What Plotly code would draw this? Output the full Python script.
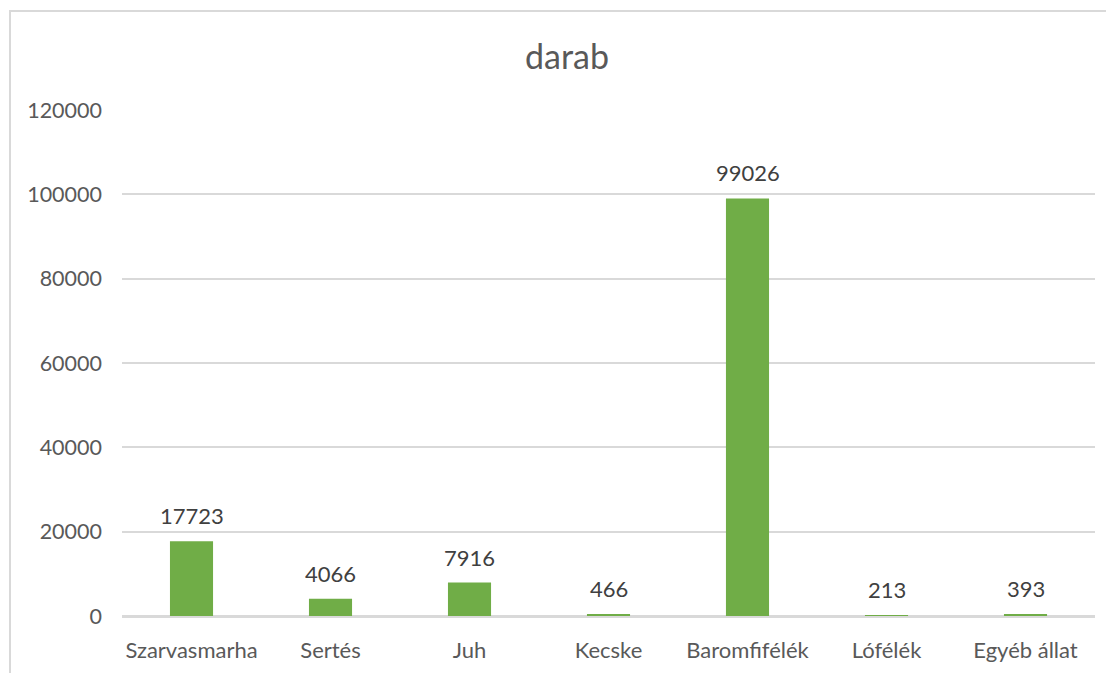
import plotly.graph_objects as go

categories = ["Szarvasmarha", "Sertés", "Juh", "Kecske", "Baromfifélék", "Lófélék", "Egyéb állat"]
values = [17723, 4066, 7916, 466, 99026, 213, 393]
y_ticks = [0, 20000, 40000, 60000, 80000, 100000, 120000]
title_text = "darab"

FONT = "Lato, 'Open Sans', sans-serif"
BAR_COLOR = "#70AD47"

fig = go.Figure()
fig.add_trace(go.Bar(
    x=categories, y=values,
    marker=dict(color=BAR_COLOR, line=dict(width=0)),
    hoverinfo="x+y",
))

for c, v in zip(categories, values):
    fig.add_annotation(
        x=c, y=v, xref="x", yref="y", text=str(v), showarrow=False,
        yanchor="bottom", yshift=10,
        font=dict(family=FONT, size=22, color="#404040"),
    )

fig.add_shape(type="rect", xref="paper", yref="paper",
              x0=-0.1151, x1=1.2, y0=-0.3, y1=1.1957,
              line=dict(color="#D9D9D9", width=2), layer="below")

fig.update_layout(
    width=1106, height=665,
    margin=dict(l=114, r=19, t=102, b=57, autoexpand=False),
    paper_bgcolor="white", plot_bgcolor="white",
    title=dict(text=title_text, x=(567 - 8) / 1106, xref="container", xanchor="center",
               y=1 - 49 / 665, yref="container", yanchor="middle",
               font=dict(family=FONT, size=34, color="#595959")),
    bargap=0.69,
    showlegend=False,
    xaxis=dict(
        showgrid=False, showline=True, linecolor="#D9D9D9", linewidth=1.5,
        tickfont=dict(family=FONT, size=22, color="#595959"),
        ticks="", ticklabelstandoff=14,
    ),
    yaxis=dict(
        range=[0, 120000], tickvals=y_ticks, ticktext=[str(t) for t in y_ticks],
        showgrid=True, gridcolor="#D9D9D9", gridwidth=1.5,
        zeroline=True, zerolinecolor="#D9D9D9", zerolinewidth=1.5,
        showline=False,
        tickfont=dict(family=FONT, size=21.5, color="#595959"),
        ticks="", ticklabelstandoff=19,
    ),
)

fig.write_html("out.html")
